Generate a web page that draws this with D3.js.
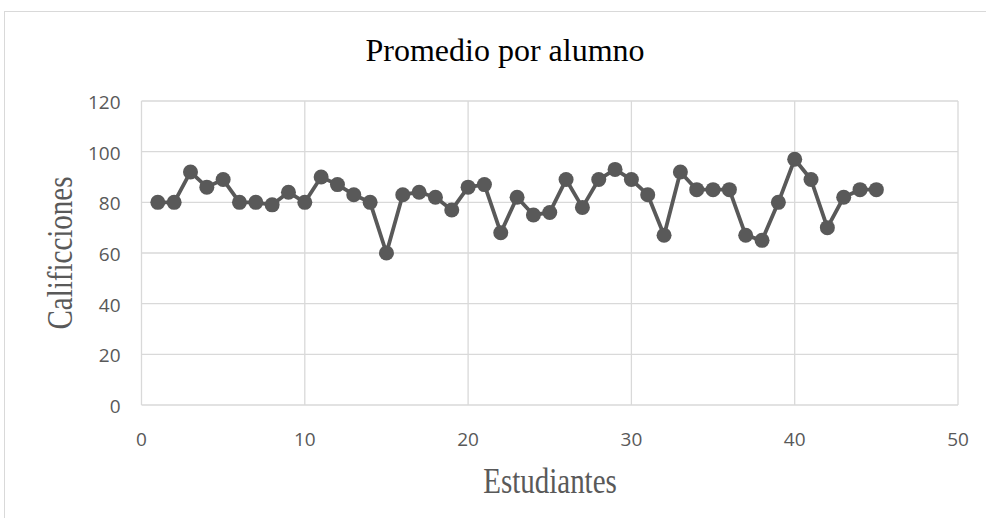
<!DOCTYPE html>
<html>
<head>
<meta charset="utf-8">
<script src="https://d3js.org/d3.v7.min.js"></script>
<style>
  body { margin: 0; background: #fff; }
  svg text { fill: #595959; }
</style>
</head>
<body>
<div id="chart"></div>
<script>
  const estudiantes = d3.range(1, 46)
  const promedios = [80, 80, 92, 86, 89, 80, 80, 79, 84, 80,
                     90, 87, 83, 80, 60, 83, 84, 82, 77, 86,
                     87, 68, 82, 75, 76, 89, 78, 89, 93, 89,
                     83, 67, 92, 85, 85, 85, 67, 65, 80, 97,
                     89, 70, 82, 85, 85]
  const xTicks = [0, 10, 20, 30, 40, 50]
  const yTicks = [0, 20, 40, 60, 80, 100, 120]

  const w = 986, h = 518
  const margin = { top: 101, right: 28, bottom: 113, left: 141.5 }

  const svg = d3.select('#chart').append('svg')
    .attr('width', w)
    .attr('height', h)

  // outer chart frame
  svg.append('rect')
    .attr('x', 4.5).attr('y', 11.5)
    .attr('width', w + 10).attr('height', h + 10)
    .attr('fill', 'none')
    .attr('stroke', '#d9d9d9')

  const x = d3.scaleLinear().domain([0, 50]).range([margin.left, w - margin.right])
  const y = d3.scaleLinear().domain([0, 120]).range([h - margin.bottom, margin.top])

  // grid
  svg.append('g').selectAll('line')
    .data(yTicks)
    .enter().append('line')
    .attr('x1', x(0)).attr('x2', x(50))
    .attr('y1', d => y(d)).attr('y2', d => y(d))
    .attr('stroke', '#d9d9d9').attr('stroke-width', 1.3)

  svg.append('g').selectAll('line')
    .data(xTicks)
    .enter().append('line')
    .attr('y1', y(0)).attr('y2', y(120))
    .attr('x1', d => x(d)).attr('x2', d => x(d))
    .attr('stroke', '#d9d9d9').attr('stroke-width', 1.3)

  // tick labels
  svg.append('g').selectAll('text')
    .data(yTicks)
    .enter().append('text')
    .attr('x', x(0) - 21)
    .attr('y', d => y(d) + 8)
    .attr('text-anchor', 'end')
    .style('font-family', "'Open Sans', sans-serif")
    .style('font-size', '19px')
    .text(d => d)

  svg.append('g').selectAll('text')
    .data(xTicks)
    .enter().append('text')
    .attr('x', d => x(d))
    .attr('y', 446)
    .attr('text-anchor', 'middle')
    .style('font-family', "'Open Sans', sans-serif")
    .style('font-size', '19px')
    .text(d => d)

  // line + markers
  const line = d3.line()
    .x((d, i) => x(estudiantes[i]))
    .y(d => y(d))

  svg.append('path')
    .datum(promedios)
    .attr('d', line)
    .attr('fill', 'none')
    .attr('stroke', '#595959')
    .attr('stroke-width', 3.8)
    .attr('stroke-linejoin', 'round')

  svg.append('g').selectAll('circle')
    .data(promedios)
    .enter().append('circle')
    .attr('cx', (d, i) => x(estudiantes[i]))
    .attr('cy', d => y(d))
    .attr('r', 7.5)
    .attr('fill', '#595959')

  // titles
  svg.append('text')
    .attr('x', 505)
    .attr('y', 61)
    .attr('text-anchor', 'middle')
    .style('font-family', "'Liberation Serif', serif")
    .style('font-size', '32px')
    .style('fill', '#000')
    .text('Promedio por alumno')

  // axis titles look vertically stretched in the original
  svg.append('text')
    .attr('transform', 'translate(550,493) scale(1,1.25)')
    .attr('text-anchor', 'middle')
    .style('font-family', "'Liberation Serif', serif")
    .style('font-size', '29px')
    .text('Estudiantes')

  svg.append('text')
    .attr('transform', `translate(72,${(y(0) + y(120)) / 2}) rotate(-90) scale(1,1.25)`)
    .attr('text-anchor', 'middle')
    .style('font-family', "'Liberation Serif', serif")
    .style('font-size', '29px')
    .text('Calificciones')
</script>
</body>
</html>
